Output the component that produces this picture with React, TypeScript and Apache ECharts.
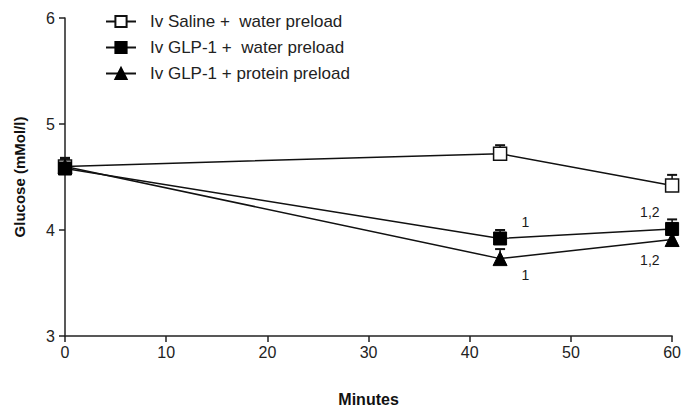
import React, { useEffect, useRef } from "react";
import * as echarts from "echarts";

const minutes = [0, 43, 60];
const salineWater = [4.6, 4.72, 4.42];
const glpWater = [4.58, 3.92, 4.01];
const glpProtein = [4.6, 3.73, 3.91];
const salineErr = [0.08, 0.08, 0.1];
const glpWaterErr = [0.08, 0.08, 0.09];
const glpProteinErr = [0.08, 0.09, 0.06];
const seriesNames = [
  "Iv Saline +  water preload",
  "Iv GLP-1 +  water preload",
  "Iv GLP-1 + protein preload",
];
const annotationX = [45.5, 45.5, 57.8, 57.8];
const annotationY = [4.08, 3.58, 4.17, 3.72];
const annotationText = ["1", "1", "1,2", "1,2"];

const FONT = "'Liberation Sans', Arial, sans-serif";

function errData(vals: number[], errs: number[]) {
  return minutes.map((m, i) => [m, vals[i], errs[i]]);
}

function errSeries(vals: number[], errs: number[]) {
  return {
    type: "custom",
    silent: true,
    z: 1,
    renderItem: (params: any, api: any) => {
      const x = api.value(0);
      const y = api.value(1);
      const e = api.value(2);
      const p0 = api.coord([x, y]);
      const p1 = api.coord([x, y + e]);
      return {
        type: "group",
        children: [
          {
            type: "line",
            shape: { x1: p0[0], y1: p0[1], x2: p1[0], y2: p1[1] },
            style: { stroke: "#111", lineWidth: 1.5 },
          },
          {
            type: "line",
            shape: { x1: p1[0] - 5, y1: p1[1], x2: p1[0] + 5, y2: p1[1] },
            style: { stroke: "#111", lineWidth: 2 },
          },
        ],
      };
    },
    data: errData(vals, errs),
  };
}

export default function App() {
  const ref = useRef<HTMLDivElement>(null);
  useEffect(() => {
    const chart = echarts.init(ref.current!, null, { renderer: "svg" });
    const lineBase = {
      type: "line",
      z: 3,
      lineStyle: { color: "#111", width: 1.5 },
      symbolSize: 13,
    };
    chart.setOption({
      animation: false,
      textStyle: { fontFamily: FONT },
      grid: { left: 65, right: 11, top: 18, bottom: 76 },
      legend: {
        orient: "vertical",
        left: 100,
        top: 8,
        itemWidth: 30,
        itemHeight: 14,
        itemGap: 9,
        textStyle: { fontFamily: FONT, fontSize: 17, color: "#222", padding: [0, 0, 0, 9] },
        data: seriesNames,
      },
      xAxis: {
        type: "value",
        min: 0,
        max: 60,
        interval: 10,
        name: "Minutes",
        nameLocation: "middle",
        nameGap: 55,
        nameTextStyle: { fontFamily: FONT, fontSize: 16, fontWeight: "bold", color: "#111" },
        axisLine: { lineStyle: { color: "#222", width: 1.5 } },
        axisTick: { length: 6, lineStyle: { color: "#222", width: 1.5 } },
        axisLabel: { fontFamily: FONT, fontSize: 16, color: "#222", margin: 8 },
        splitLine: { show: false },
      },
      yAxis: {
        type: "value",
        min: 3,
        max: 6,
        interval: 1,
        name: "Glucose (mMol/l)",
        nameLocation: "middle",
        nameGap: 38,
        nameTextStyle: { fontFamily: FONT, fontSize: 15, fontWeight: "bold", color: "#111" },
        axisLine: { show: true, lineStyle: { color: "#222", width: 1.5 } },
        axisTick: { show: true, length: 6, lineStyle: { color: "#222", width: 1.5 } },
        axisLabel: { fontFamily: FONT, fontSize: 16, color: "#222", margin: 10 },
        splitLine: { show: false },
      },
      series: [
        errSeries(salineWater, salineErr),
        errSeries(glpWater, glpWaterErr),
        errSeries(glpProtein, glpProteinErr),
        {
          ...lineBase,
          name: seriesNames[0],
          symbol: "rect",
          itemStyle: { color: "#fff", borderColor: "#111", borderWidth: 1.5 },
          data: minutes.map((m, i) => [m, salineWater[i]]),
        },
        {
          ...lineBase,
          name: seriesNames[1],
          symbol: "rect",
          itemStyle: { color: "#000", borderColor: "#000", borderWidth: 1 },
          data: minutes.map((m, i) => [m, glpWater[i]]),
        },
        {
          ...lineBase,
          name: seriesNames[2],
          symbol: "triangle",
          symbolSize: 14,
          itemStyle: { color: "#000", borderColor: "#000", borderWidth: 1 },
          data: minutes.map((m, i) => [m, glpProtein[i]]),
        },
        {
          type: "custom",
          silent: true,
          z: 4,
          renderItem: (params: any, api: any) => {
            const p = api.coord([api.value(0), api.value(1)]);
            return {
              type: "text",
              x: p[0],
              y: p[1],
              style: {
                text: annotationText[params.dataIndex],
                fill: "#1a1a1a",
                font: `14px ${FONT}`,
                align: "center",
                verticalAlign: "middle",
              },
            };
          },
          data: annotationX.map((x, i) => [x, annotationY[i]]),
        },
      ],
    });
    return () => chart.dispose();
  }, []);
  return <div ref={ref} style={{ width: 684, height: 412, position: "absolute", left: 0, top: 0, background: "#fff" }} />;
}
